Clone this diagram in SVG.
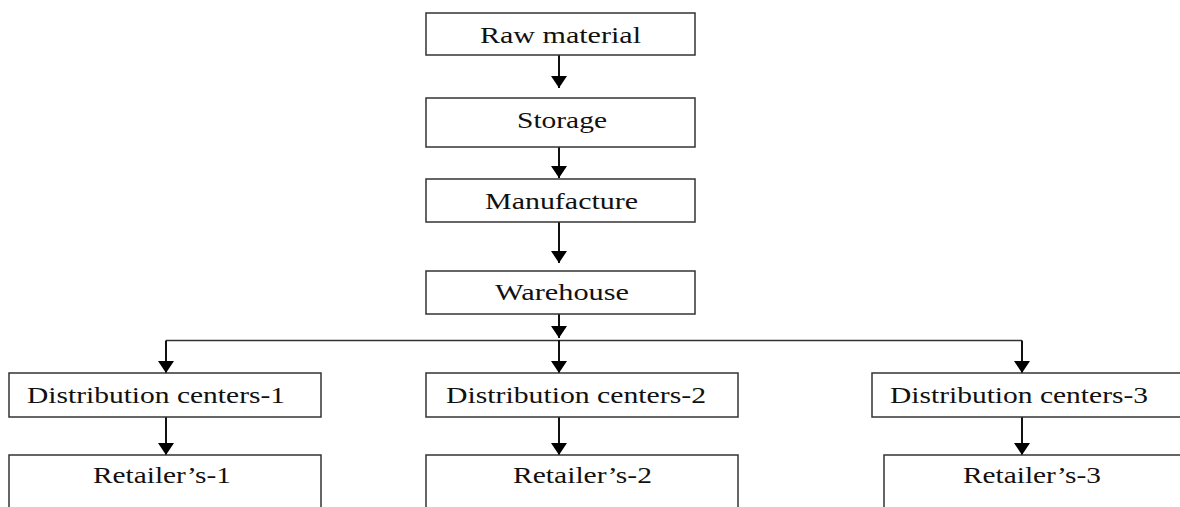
<svg xmlns="http://www.w3.org/2000/svg" width="1180" height="507" viewBox="0 0 1180 507">
<style>
.box{fill:#fff;stroke:#333;stroke-width:1.5}
.lbl{font-family:"Liberation Serif","Times New Roman",serif;font-size:24px;fill:#111}
.ln{stroke:#111;stroke-width:2;fill:none}
</style>
<defs>
<marker id="ah" markerUnits="userSpaceOnUse" markerWidth="16" markerHeight="12" viewBox="0 0 16 12" refX="8" refY="12" orient="0">
<path d="M0,0 L16,0 L8,12 Z" fill="#000"/>
</marker>
</defs>
<rect width="1180" height="507" fill="#fff"/>
<g id="connectors">
<line class="ln" x1="559" y1="55" x2="559" y2="88" marker-end="url(#ah)"/>
<line class="ln" x1="559" y1="147" x2="559" y2="178" marker-end="url(#ah)"/>
<line class="ln" x1="559" y1="222" x2="559" y2="263" marker-end="url(#ah)"/>
<line class="ln" x1="559" y1="314" x2="559" y2="338" marker-end="url(#ah)"/>
<line x1="166" y1="340.5" x2="1022" y2="340.5" stroke="#333" stroke-width="1.5"/>
<line class="ln" x1="559" y1="340" x2="559" y2="373" marker-end="url(#ah)"/>
<polyline class="ln" points="166,340.5 166,373" marker-end="url(#ah)"/>
<polyline class="ln" points="1022,340.5 1022,373" marker-end="url(#ah)"/>
<line class="ln" x1="166" y1="417" x2="166" y2="455" marker-end="url(#ah)"/>
<line class="ln" x1="559" y1="417" x2="559" y2="455" marker-end="url(#ah)"/>
<line class="ln" x1="1022" y1="417" x2="1022" y2="455" marker-end="url(#ah)"/>
</g>
<g id="raw-material"><rect class="box" x="426" y="13" width="269" height="42"/><text class="lbl" x="480" y="43" textLength="161" lengthAdjust="spacingAndGlyphs">Raw material</text></g>
<g id="storage"><rect class="box" x="426" y="98" width="269" height="49"/><text class="lbl" x="517" y="128" textLength="90" lengthAdjust="spacingAndGlyphs">Storage</text></g>
<g id="manufacture"><rect class="box" x="426" y="179" width="269" height="43"/><text class="lbl" x="485" y="209" textLength="153" lengthAdjust="spacingAndGlyphs">Manufacture</text></g>
<g id="warehouse"><rect class="box" x="426" y="271" width="269" height="43"/><text class="lbl" x="495" y="300" textLength="134" lengthAdjust="spacingAndGlyphs">Warehouse</text></g>
<g id="dc1"><rect class="box" x="9" y="373" width="312" height="44"/><text class="lbl" x="27" y="403" textLength="258" lengthAdjust="spacingAndGlyphs">Distribution centers-1</text></g>
<g id="dc2"><rect class="box" x="426" y="373" width="312" height="44"/><text class="lbl" x="446" y="403" textLength="260" lengthAdjust="spacingAndGlyphs">Distribution centers-2</text></g>
<g id="dc3"><rect class="box" x="872" y="373" width="320" height="44"/><text class="lbl" x="890" y="403" textLength="258" lengthAdjust="spacingAndGlyphs">Distribution centers-3</text></g>
<g id="retailer1"><rect class="box" x="9" y="455" width="312" height="70"/><text class="lbl" x="93" y="483" textLength="138" lengthAdjust="spacingAndGlyphs">Retailer’s-1</text></g>
<g id="retailer2"><rect class="box" x="426" y="455" width="312" height="70"/><text class="lbl" x="513" y="483" textLength="139" lengthAdjust="spacingAndGlyphs">Retailer’s-2</text></g>
<g id="retailer3"><rect class="box" x="884" y="455" width="320" height="70"/><text class="lbl" x="963" y="483" textLength="138" lengthAdjust="spacingAndGlyphs">Retailer’s-3</text></g>
</svg>
